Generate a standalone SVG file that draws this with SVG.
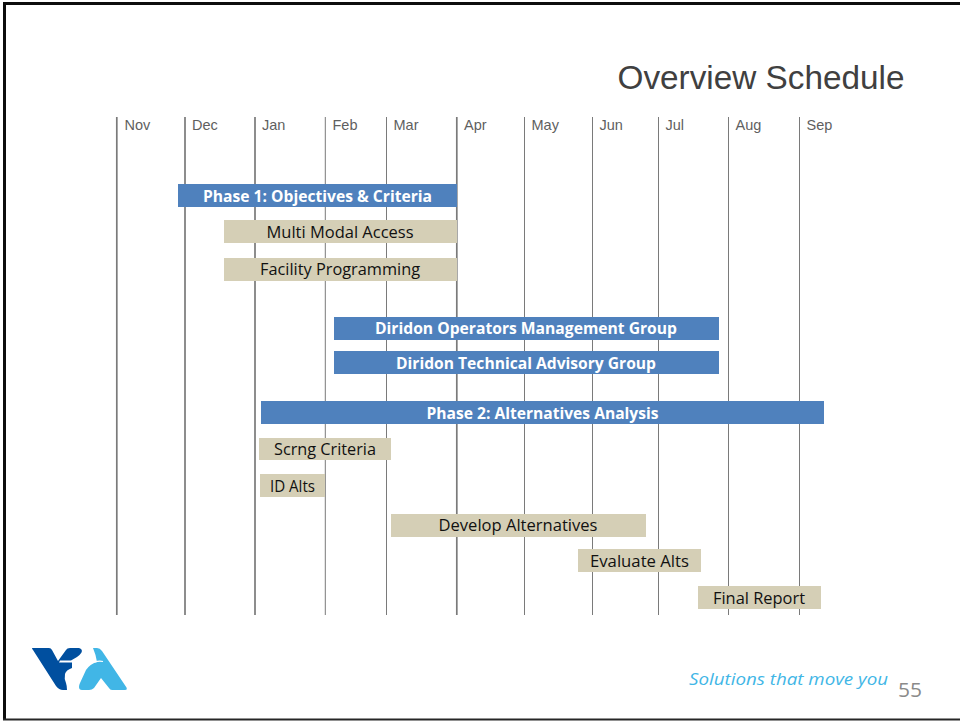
<svg xmlns="http://www.w3.org/2000/svg" width="960" height="721" viewBox="0 0 960 721">
<style>
.grid{stroke:#7a7a7a;stroke-width:1;fill:none}
.thick{stroke-width:1.7}
.m{font:14.5px "Liberation Sans",Arial,sans-serif;fill:#5f5f5f}
.blue{fill:#4f81bd}
.tan{fill:#d5cfb6}
.bl{font:bold 16px "Open Sans","Noto Sans",sans-serif;fill:#fff;text-anchor:middle}
.tl{font:16px "Open Sans","Noto Sans",sans-serif;fill:#111;text-anchor:middle}
</style>
<rect width="960" height="721" fill="#fff"/>
<g id="frame" fill="#0d0d0d">
<rect x="3" y="2" width="957" height="3"/>
<rect x="3" y="2" width="3" height="718"/>
<rect x="3" y="718.500" width="957" height="2" fill="#262626"/>
</g>
<text x="761" y="89" font-family="Liberation Sans,Arial,sans-serif" font-size="33.5" fill="#404040" text-anchor="middle" textLength="287" lengthAdjust="spacingAndGlyphs">Overview Schedule</text>
<g id="connectors">
<path class="grid thick" d="M116.800 117V615M185 117V615M255 117V615M456.800 117V615"/>
<path class="grid" d="M325.300 117V615M386.500 117V615M524.500 117V615M592.500 117V615M658.500 117V615M728.500 117V615M799.500 117V615"/>
</g>
<g id="months">
<text class="m" x="124.500" y="130">Nov</text><text class="m" x="192" y="130">Dec</text><text class="m" x="262" y="130">Jan</text><text class="m" x="332.500" y="130">Feb</text><text class="m" x="393.500" y="130">Mar</text><text class="m" x="464" y="130">Apr</text><text class="m" x="531.500" y="130">May</text><text class="m" x="599.500" y="130">Jun</text><text class="m" x="665.500" y="130">Jul</text><text class="m" x="735.500" y="130">Aug</text><text class="m" x="806.500" y="130">Sep</text>
</g>
<g id="phase1"><rect class="blue" x="178" y="184" width="279" height="23"/><text class="bl" x="317.500" y="201.500" textLength="229" lengthAdjust="spacingAndGlyphs">Phase 1: Objectives &amp; Criteria</text></g>
<g id="multimodal"><rect class="tan" x="224" y="220" width="233" height="23"/><text class="tl" x="340" y="237.500" textLength="147" lengthAdjust="spacingAndGlyphs">Multi Modal Access</text></g>
<g id="facility"><rect class="tan" x="224" y="258" width="233" height="23"/><text class="tl" x="340" y="274.500" textLength="160" lengthAdjust="spacingAndGlyphs">Facility Programming</text></g>
<g id="omg"><rect class="blue" x="334" y="317" width="385" height="23"/><text class="bl" x="526" y="334" textLength="302" lengthAdjust="spacingAndGlyphs">Diridon Operators Management Group</text></g>
<g id="tag"><rect class="blue" x="334" y="351" width="385" height="23"/><text class="bl" x="526" y="368.500" textLength="260" lengthAdjust="spacingAndGlyphs">Diridon Technical Advisory Group</text></g>
<g id="phase2"><rect class="blue" x="261" y="401" width="563" height="23"/><text class="bl" x="542.500" y="418.500" textLength="232" lengthAdjust="spacingAndGlyphs">Phase 2: Alternatives Analysis</text></g>
<g id="scrng"><rect class="tan" x="259" y="438" width="132" height="22"/><text class="tl" x="325" y="455" textLength="102" lengthAdjust="spacingAndGlyphs">Scrng Criteria</text></g>
<g id="idalts"><rect class="tan" x="260" y="474" width="65" height="23"/><text class="tl" x="292.500" y="491.500" textLength="45" lengthAdjust="spacingAndGlyphs">ID Alts</text></g>
<g id="develop"><rect class="tan" x="391" y="514" width="255" height="23"/><text class="tl" x="518" y="530.500" textLength="159" lengthAdjust="spacingAndGlyphs">Develop Alternatives</text></g>
<g id="evaluate"><rect class="tan" x="578" y="549" width="123" height="23"/><text class="tl" x="639.500" y="566.500" textLength="99" lengthAdjust="spacingAndGlyphs">Evaluate Alts</text></g>
<g id="final"><rect class="tan" x="698" y="586" width="123" height="23"/><text class="tl" x="759" y="603.500" textLength="92" lengthAdjust="spacingAndGlyphs">Final Report</text></g>
<g id="logo">
<path fill="#004f9f" d="M32 648H49Q51 648 52 650L58 661L66 650Q67 648 70 648H79Q83 649 81.500 652.500Q80 655 77 657L71 660.500H60L59 662.500H72L72 668Q66 670 65 674Q64 679 66 683Q67 686 67 690H63Q59 690 56 686L33 650Q32 649 32 648Z"/>
<path fill="#41b6e6" d="M93 648H97Q100 648 102 651L126.500 687.500Q127.500 690 125 690H112Q110 690 109 688L101 678L94 688Q92 690 89 690H82Q79 690 79 687Q79 685 80 683L86 670Q90 664 97 662Q96 655 93 648Z"/>
<path fill="none" stroke="#fff" stroke-width="1.200" d="M103 661.500Q99 660.500 95 662"/>
</g>
<text x="689" y="685" font-family="Open Sans,sans-serif" font-style="italic" font-size="16.500" fill="#41b6e6" textLength="199" lengthAdjust="spacingAndGlyphs">Solutions that move you</text>
<text x="898" y="697" font-family="Open Sans,sans-serif" font-size="20" fill="#8a8a8a" textLength="24" lengthAdjust="spacingAndGlyphs">55</text>
</svg>
